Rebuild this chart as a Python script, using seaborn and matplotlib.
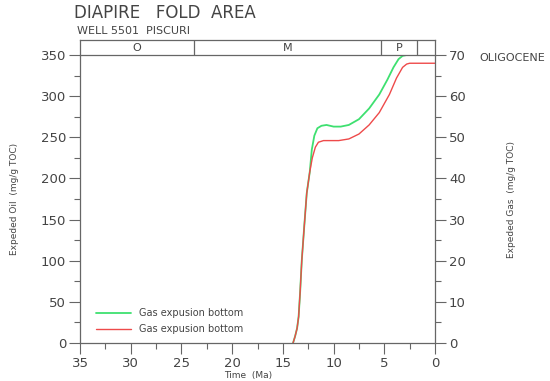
import numpy as np
import pandas as pd
import matplotlib
matplotlib.use("Agg")
import matplotlib.pyplot as plt
import seaborn as sns
from matplotlib.ticker import MultipleLocator

# Expelled oil curves (time in Ma, value in mg/g TOC)
red_time = [14.0, 13.8, 13.6, 13.45, 13.3, 13.14, 12.9, 12.65, 12.35, 12.1, 11.8, 11.5, 11.0, 10.5,
            9.5, 8.5, 7.5, 6.5, 5.5, 4.5, 3.8, 3.2, 2.8, 2.5, 0.0]
red_vals = [0, 8, 18, 32, 62, 100, 141, 182, 208, 225, 238, 244, 246, 246,
            246, 248, 254, 265, 280, 302, 322, 335, 339, 340, 340]

green_time = [14.0, 13.8, 13.6, 13.45, 13.3, 13.14, 12.9, 12.65, 12.35, 12.15, 11.9, 11.6, 11.2, 10.7,
              10.0, 9.3, 8.5, 7.5, 6.5, 5.5, 4.7, 4.1, 3.6, 3.2, 2.8, 0.0]
green_vals = [0, 8, 18, 32, 62, 100, 141, 182, 208, 235, 252, 261, 264, 265,
              263, 263, 265, 272, 285, 302, 320, 335, 345, 349, 350, 350]

legend_labels = ["Gas expusion bottom", "Gas expusion bottom"]

# epochs shown in header band
period_bounds = [35, 23.8, 5.3, 1.8, 0]
period_names = ["O", "M", "P", ""]

sns.set_style("white")
plt.rcParams['font.family'] = ['DejaVu Sans']

grey = "#666666"
txt = "#444444"

fig = plt.figure(figsize=(5.5, 3.81), dpi=100)
ax = fig.add_axes([0.1455, 0.0997, 0.6455, 0.7559])

green_df = pd.DataFrame({"time": green_time, "value": green_vals})
red_df = pd.DataFrame({"time": red_time, "value": red_vals})
sns.lineplot(data=green_df, x="time", y="value", ax=ax, color="#3ee070", lw=1.3,
             label=legend_labels[0], sort=False)
sns.lineplot(data=red_df, x="time", y="value", ax=ax, color="#ee4a4a", lw=1.0,
             label=legend_labels[1], sort=False)

ax.set_xlim(35, 0)
ax.set_ylim(0, 350)
ax.xaxis.set_major_locator(MultipleLocator(5))
ax.xaxis.set_minor_locator(MultipleLocator(2.5))
ax.yaxis.set_major_locator(MultipleLocator(50))
ax.yaxis.set_minor_locator(MultipleLocator(25))
ax.tick_params(which="major", direction="out", length=8, width=0.8, color=grey,
               labelsize=9.5, labelcolor=txt, bottom=True, left=True, pad=2)
ax.tick_params(which="minor", direction="out", length=4, width=0.8, color=grey,
               bottom=True, left=True)
ax.set_xlabel("")
ax.set_ylabel("Expeded Oil  (mg/g TOC)", fontsize=6.5, color=txt, labelpad=16)
for s in ax.spines.values():
    s.set_color(grey)
    s.set_linewidth(0.9)
ax.spines["top"].set_visible(False)

ax.legend(loc="lower left", bbox_to_anchor=(0.02, 0.0), frameon=False, fontsize=7,
          handlelength=3.6, labelspacing=0.6, labelcolor=txt)

ax2 = ax.twinx()
ax2.set_ylim(0, 70)
ax2.yaxis.set_major_locator(MultipleLocator(10))
ax2.yaxis.set_minor_locator(MultipleLocator(5))
ax2.tick_params(which="major", direction="out", length=8, width=0.8, color=grey,
                labelsize=9.5, labelcolor=txt, right=True, pad=2)
ax2.tick_params(which="minor", direction="out", length=4, width=0.8, color=grey, right=True)
ax2.set_ylabel("Expeded Gas  (mg/g TOC)", fontsize=6.5, color=txt, labelpad=30)
for s in ax2.spines.values():
    s.set_visible(False)

# header band with epoch names
hdr = fig.add_axes([0.1455, 0.8556, 0.6455, 0.0394])
hdr.set_xlim(35, 0)
hdr.set_ylim(0, 1)
hdr.set_xticks([])
hdr.set_yticks([])
for s in hdr.spines.values():
    s.set_color(grey)
    s.set_linewidth(0.9)
for i, name in enumerate(period_names):
    if i > 0:
        hdr.axvline(period_bounds[i], color=grey, lw=0.9)
    mid = (period_bounds[i] + period_bounds[i + 1]) / 2
    hdr.text(mid, 0.45, name, ha="center", va="center", fontsize=8, color=txt)

fig.text(0.135, 0.965, "DIAPIRE   FOLD  AREA", fontsize=12, color=txt, va="center")
fig.text(0.14, 0.918, "WELL 5501  PISCURI", fontsize=8, color=txt, va="center")
fig.text(0.872, 0.848, "OLIGOCENE", fontsize=8, color=txt, va="center")
fig.text(0.451, 0.014, "Time  (Ma)", fontsize=6.5, color=txt, ha="center", va="center")

fig.savefig("out.png", dpi=100)
